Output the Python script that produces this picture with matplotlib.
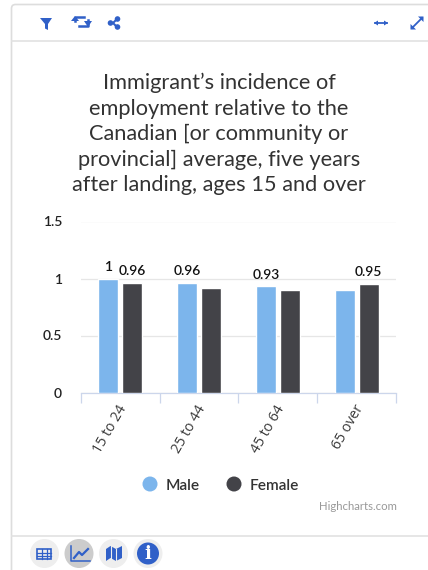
import numpy as np
import matplotlib
matplotlib.use('Agg')
import matplotlib.pyplot as plt
from matplotlib.patches import Circle, Polygon, Rectangle, FancyBboxPatch
from matplotlib.transforms import ScaledTranslation

plt.rcParams['font.family'] = ['Lato', 'DejaVu Sans']

W, H = 428, 570

title = ("Immigrant\u2019s incidence of\nemployment relative to the\nCanadian [or community or\n"
         "provincial] average, five years\nafter landing, ages 15 and over")
categories = ['15 to 24', '25 to 44', '45 to 64', '65 over']
male = [1, 0.96, 0.93, 0.90]
female = [0.96, 0.92, 0.90, 0.95]
# only some of the bars carry a label in the original
male_labels = ['1', '0.96', '0.93', None]
female_labels = ['0.96', None, None, '0.95']
yticks = [0, 0.5, 1, 1.5]
ytick_labels = ['0', '0.5', '1', '1.5']

MALE_COL = '#7cb5ec'
FEMALE_COL = '#434348'
TEXT_COL = '#333333'
ICON_COL = '#3060c8'

fig = plt.figure(figsize=(W / 100, H / 100), dpi=100, facecolor='white')

# chrome layer in pixel coordinates
bg = fig.add_axes([0, 0, 1, 1])
bg.set_xlim(0, W)
bg.set_ylim(H, 0)
bg.axis('off')

bg.add_patch(FancyBboxPatch((11.5, 4.5), W + 40, H + 40, boxstyle='round,pad=0,rounding_size=4',
                            fc='white', ec='#dddddd', lw=1.2))
bg.plot([12, W], [41, 41], color='#e2e2e2', lw=1.2)
bg.plot([12, W], [535.5, 535.5], color='#e2e2e2', lw=1.2)

# top toolbar icons
bg.add_patch(Polygon([(40, 18), (52, 18), (48, 24), (48, 30), (45, 28.5), (45, 24)], fc=ICON_COL, ec='none'))
bg.plot([75, 75, 84], [21, 17, 17], color=ICON_COL, lw=1.8)
bg.plot([88, 88, 79], [20, 26, 26], color=ICON_COL, lw=1.8)
bg.add_patch(Polygon([(71, 21), (79, 21), (75, 16)], fc=ICON_COL, ec='none'))
bg.add_patch(Polygon([(84, 21), (92, 21), (88, 27)], fc=ICON_COL, ec='none'))
bg.plot([117, 113, 117], [19, 23, 27], color=ICON_COL, lw=1.5)
for cx, cy, r in [(117.5, 19, 2.8), (117.5, 27, 2.8), (110.5, 23, 2.8)]:
    bg.add_patch(Circle((cx, cy), r, fc=ICON_COL, ec='none'))
bg.plot([375, 387], [23, 23], color=ICON_COL, lw=1.3)
bg.add_patch(Polygon([(374, 23), (378, 20.5), (378, 25.5)], fc=ICON_COL, ec='none'))
bg.add_patch(Polygon([(388, 23), (384, 20.5), (384, 25.5)], fc=ICON_COL, ec='none'))
bg.plot([412, 422], [28, 18], color=ICON_COL, lw=1.3)
bg.add_patch(Polygon([(410.5, 29.5), (410.5, 24), (416, 29.5)], fc=ICON_COL, ec='none'))
bg.add_patch(Polygon([(423.5, 16.5), (423.5, 22), (418, 16.5)], fc=ICON_COL, ec='none'))

# bottom toolbar icons
for cx, col in [(44.5, '#eeeeee'), (79, '#cccccc'), (113.5, '#eeeeee'), (148, '#eeeeee')]:
    bg.add_patch(Circle((cx, 553.5), 14.5, fc=col, ec='none'))
bg.add_patch(Rectangle((37.5, 549), 14, 10, fc='none', ec=ICON_COL, lw=1.2))
for gx in [42, 47]:
    bg.plot([gx, gx], [549, 559], color=ICON_COL, lw=0.9)
for gy in [552.5, 556]:
    bg.plot([37.5, 51.5], [gy, gy], color=ICON_COL, lw=0.9)
bg.plot([71.5, 71.5, 90], [546, 561, 561], color=ICON_COL, lw=1.1)
bg.plot([74, 79, 82, 88], [558, 552, 555, 549], color=ICON_COL, lw=1.6)
bg.add_patch(Polygon([(106, 549), (110.5, 546), (116, 549), (122, 546), (122, 558), (116, 561),
                      (110.5, 558), (106, 561)], fc=ICON_COL, ec='none'))
bg.plot([111.5, 111.5], [546, 558], color='#eeeeee', lw=0.8)
bg.plot([116, 116], [549, 561], color='#eeeeee', lw=0.8)
bg.add_patch(Circle((148, 553.5), 11, fc=ICON_COL, ec='none'))
bg.text(148, 553.8, 'i', color='white', fontsize=13, fontweight='black', ha='center', va='center',
        family='DejaVu Serif')

bg.text(219, 134, title, fontsize=15.7, color=TEXT_COL, ha='center', va='center', linespacing=1.33)

# legend, credits
bg.add_patch(Circle((150, 484), 7.5, fc=MALE_COL, ec='none'))
bg.text(166, 486, 'Male', fontsize=11.1, color=TEXT_COL, va='center', fontweight='semibold')
bg.add_patch(Circle((234, 484), 7.5, fc=FEMALE_COL, ec='none'))
bg.text(250, 486, 'Female', fontsize=11.1, color=TEXT_COL, va='center', fontweight='semibold')
bg.text(396.5, 507, 'Highcharts.com', fontsize=8.2, color='#999999', ha='right', va='center')

# plot area: x 80.7-396, y 221.5-392.5 px
left, right, top, bottom = 80.7, 396, 221.5, 392.5
ax = fig.add_axes([left / W, 1 - bottom / H, (right - left) / W, (bottom - top) / H])
ax.patch.set_alpha(0)

x = np.arange(len(categories))
width = 0.255
off = 0.152
bars_m = ax.bar(x - off, male, width, color=MALE_COL, edgecolor='white', linewidth=1, zorder=3)
bars_f = ax.bar(x + off, female, width, color=FEMALE_COL, edgecolor='white', linewidth=1, zorder=3)

for bars, labels in [(bars_m, male_labels), (bars_f, female_labels)]:
    for b, lab in zip(bars, labels):
        if lab is None:
            continue
        ax.annotate(lab, (b.get_x() + b.get_width() / 2, b.get_height()), xytext=(0, 4.2),
                    textcoords='offset points', ha='center', va='bottom', fontsize=10,
                    color='#111111', fontweight='semibold', zorder=4)

ax.set_xlim(-0.5, len(categories) - 0.5)
ax.set_ylim(0, 1.5)
ax.set_yticks(yticks)
ax.set_yticklabels(ytick_labels, fontsize=10, color='#222222', fontweight='semibold')
ax.tick_params(axis='y', length=0, pad=13.5)
ax.grid(axis='y', color='#e6e6e6', lw=0.9, zorder=0)
ax.set_axisbelow(True)

ax.set_xticks(x)
ax.set_xticklabels(categories, rotation=60, ha='right', va='top', rotation_mode='anchor',
                   fontsize=10.2, color='#3a3a3a', family=['Open Sans', 'DejaVu Sans'])
ax.tick_params(axis='x', which='major', length=0, pad=7)
# labels sit a little left of the group centre
shift = ScaledTranslation(-3 / 100, 0, fig.dpi_scale_trans)
for lab in ax.get_xticklabels():
    lab.set_transform(lab.get_transform() + shift)
ax.set_xticks(np.arange(len(categories) + 1) - 0.5, minor=True)
ax.tick_params(axis='x', which='minor', length=7.5, width=0.9, color='#ccd6eb')

for s in ['top', 'left', 'right']:
    ax.spines[s].set_visible(False)
ax.spines['bottom'].set_color('#ccd6eb')
ax.spines['bottom'].set_linewidth(0.9)

fig.savefig('out.png', dpi=100)
